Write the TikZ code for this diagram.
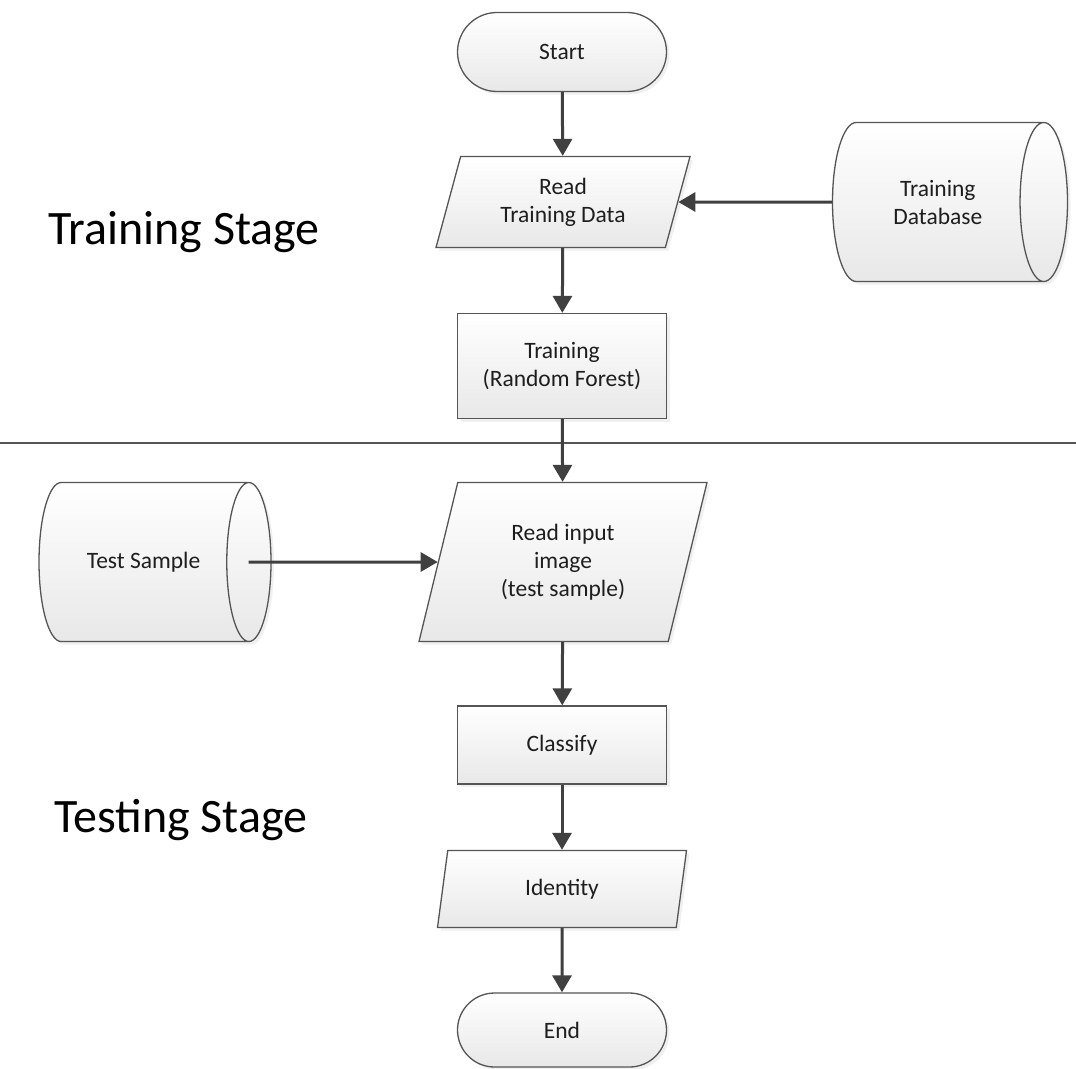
\documentclass[tikz,border=0pt]{standalone}
\usepackage{fontspec}
\setmainfont{Carlito}
\usetikzlibrary{shapes.geometric, shapes.misc, arrows.meta, shadows}

\definecolor{edgegray}{HTML}{555555}
\definecolor{arrowgray}{HTML}{404040}
\definecolor{txtdark}{HTML}{1E1E1E}

\tikzset{
  box/.style={draw=edgegray, line width=1.3pt, top color=white, bottom color=black!9,
    text=txtdark, font=\fontsize{23.5}{28}\selectfont, align=center,
    drop shadow={shadow xshift=3pt, shadow yshift=-3pt, opacity=0.12}},
  terminal/.style={box, rounded rectangle, minimum width=209pt, inner sep=0pt},
  process/.style={box, rectangle, minimum width=209pt, inner sep=0pt},
  io/.style={box, trapezium, trapezium left angle=63, trapezium right angle=117,
    trapezium stretches body, inner sep=0pt},
  store/.style={box, cylinder, anchor=shape center, minimum width=159pt, minimum height=232pt, inner sep=0pt},
  flow/.style={draw=arrowgray, line width=3pt, -{Triangle[length=17pt, width=19pt]}},
  stage/.style={text=black, font=\fontsize{48}{54}\selectfont}
}

\begin{document}
\begin{tikzpicture}[x=1pt, y=-1pt]
\useasboundingbox (0,0) rectangle (1076,1068);

% Training
\node[terminal, minimum height=79pt] (start) at (562,52) {Start};
\node[io, minimum width=254pt, minimum height=91pt] (readtrain) at (563,202) {Read\\Training Data};
\node[process, minimum height=105pt] (train) at (562,366) {Training\\(Random Forest)};
\node[store, shape aspect=1.07, minimum height=235pt] (db) at (950,202) {Training\\Database};

% Divider
\draw[edgegray, line width=1.2pt] (0,443) -- (1076,443);

% Testing
\node[io, minimum width=288pt, minimum height=159pt] (readin) at (563,562) {Read input\\image\\(test sample)};
\node[store, shape aspect=2.2] (test) at (155,562) {Test Sample};
\node[process, minimum height=78pt] (classify) at (562,745) {Classify};
\node[io, minimum width=249pt, minimum height=77pt] (ident) at (562,889) {Identity};
\node[terminal, minimum height=74pt] (end) at (562,1030) {End};

% Arrows
\draw[flow] (start) -- (readtrain);
\draw[flow] (readtrain) -- (train);
\draw[flow] (db.west) -- (readtrain.east);
\draw[flow] (train) -- (readin);
\draw[flow] ([xshift=-23pt]test.east) -- (readin);
\draw[flow] (readin) -- (classify);
\draw[flow] (classify) -- (ident);
\draw[flow] (ident) -- (end);

% Labels
\node[stage] (trainlbl) at (184,232) {Training Stage};
\node[stage] (testlbl) at (181,820) {Testing Stage};
\end{tikzpicture}
\end{document}
